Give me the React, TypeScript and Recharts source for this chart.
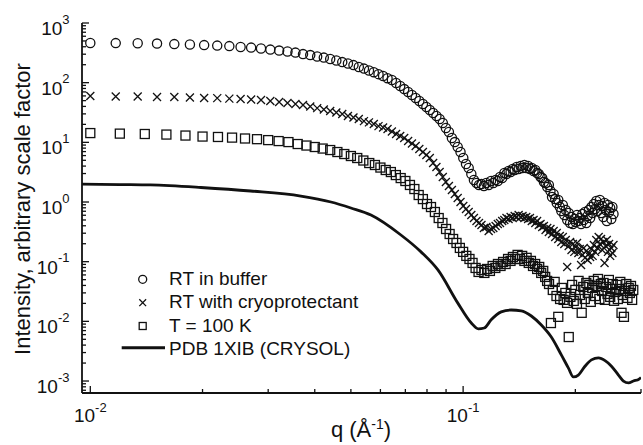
import React from 'react';
import { ScatterChart, Scatter, XAxis, YAxis } from 'recharts';

// q grid of the two room-temperature runs (1/Å)
const qRoom = [
  0.0100, 0.0117, 0.0134, 0.0151, 0.0168, 0.0185, 0.0202, 0.0219, 0.0236, 0.0253,
  0.0270, 0.0287, 0.0304, 0.0321, 0.0338, 0.0355, 0.0372, 0.0389, 0.0406, 0.0423,
  0.0440, 0.0457, 0.0474, 0.0491, 0.0508, 0.0525, 0.0542, 0.0559, 0.0576, 0.0593,
  0.0610, 0.0627, 0.0644, 0.0661, 0.0678, 0.0695, 0.0712, 0.0729, 0.0746, 0.0763,
  0.0780, 0.0797, 0.0814, 0.0831, 0.0848, 0.0865, 0.0882, 0.0899, 0.0916, 0.0933,
  0.0950, 0.0967, 0.0984, 0.1001, 0.1018, 0.1035, 0.1052, 0.1069, 0.1086, 0.1103,
  0.1120, 0.1137, 0.1154, 0.1171, 0.1188, 0.1205, 0.1222, 0.1239, 0.1256, 0.1273,
  0.1290, 0.1307, 0.1324, 0.1341, 0.1358, 0.1375, 0.1392, 0.1409, 0.1426, 0.1443,
  0.1460, 0.1477, 0.1494, 0.1511, 0.1528, 0.1545, 0.1562, 0.1579, 0.1596, 0.1613,
  0.1630, 0.1647, 0.1664, 0.1681, 0.1698, 0.1715, 0.1732, 0.1749, 0.1766, 0.1783,
  0.1800, 0.1817, 0.1834, 0.1851, 0.1868, 0.1885, 0.1902, 0.1919, 0.1936, 0.1953,
  0.1970, 0.1987, 0.2004, 0.2021, 0.2038, 0.2055, 0.2072, 0.2089, 0.2106, 0.2123,
  0.2140, 0.2157, 0.2174, 0.2191, 0.2208, 0.2225, 0.2242, 0.2259, 0.2276, 0.2293,
  0.2310, 0.2327, 0.2344, 0.2361, 0.2378, 0.2395, 0.2412, 0.2429, 0.2446, 0.2463,
  0.2480, 0.2497, 0.2514, 0.2531,
];

// RT in buffer
const buffer = [
  461, 460, 458, 452, 443, 435, 426, 418, 410, 395,
  387, 373, 358, 345, 332, 319, 301, 290, 274, 263,
  249, 235, 221, 209, 197, 183, 172, 160, 150, 139,
  129, 119, 111, 98.5, 87.7, 78.1, 69.6, 62, 55.2, 49.2,
  43.8, 39, 34.8, 31, 27.6, 24.6, 21.1, 17.4, 14.9, 11.8,
  10.1, 8.35, 6.88, 5.46, 4.33, 3.71, 2.94, 2.34, 2.08, 1.93,
  2.0, 1.85, 2.08, 1.93, 2.25, 2.08, 2.34, 2.25, 2.62, 2.52,
  3.06, 2.94, 3.31, 3.18, 3.57, 3.44, 3.86, 3.57, 4.01, 3.71,
  4.17, 3.71, 4.01, 3.57, 3.71, 3.31, 3.44, 3.06, 2.94, 2.62,
  2.52, 2.16, 2.08, 1.78, 1.93, 1.53, 1.21, 1.36, 1.12, 0.962,
  1.08, 0.824, 0.706, 0.891, 0.605, 0.734, 0.499, 0.654, 0.445, 0.561,
  0.428, 0.519, 0.462, 0.605, 0.48, 0.539, 0.428, 0.629, 0.499, 0.68,
  0.445, 0.583, 0.734, 0.539, 0.824, 0.654, 0.926, 0.763, 1.04, 0.706,
  0.891, 1.08, 0.654, 0.857, 0.561, 0.962, 0.734, 0.48, 0.891, 0.68,
  0.793, 0.519, 0.824, 0.629,
];

// RT with cryoprotectant
const cryo = [
  59.6, 58.5, 58.5, 57.4, 57.4, 56.3, 55.2, 55.0, 54.1, 53.1,
  52.1, 51.1, 49.2, 47.3, 45.5, 43.8, 42.2, 39.8, 37.5, 35.4,
  33.5, 31.6, 29.8, 27.6, 26.0, 24.6, 22.7, 21.6, 20.3, 18.7,
  17.7, 16.7, 15.2, 13.8, 12.8, 11.8, 10.5, 9.56, 8.67, 7.73,
  6.88, 6.13, 5.46, 4.5, 3.86, 3.18, 2.62, 2.16, 1.85, 1.59,
  1.36, 1.17, 1.0, 0.857, 0.763, 0.68, 0.605, 0.539, 0.48, 0.445,
  0.412, 0.367, 0.381, 0.327, 0.353, 0.367, 0.396, 0.428, 0.445, 0.48,
  0.499, 0.539, 0.519, 0.561, 0.539, 0.583, 0.561, 0.605, 0.561, 0.583,
  0.539, 0.561, 0.519, 0.539, 0.48, 0.499, 0.445, 0.48, 0.412, 0.428,
  0.381, 0.396, 0.339, 0.367, 0.314, 0.353, 0.291, 0.327, 0.259, 0.302,
  0.24, 0.269, 0.214, 0.259, 0.198, 0.231, 0.0816, 0.183, 0.214, 0.157,
  0.198, 0.146, 0.176, 0.206, 0.14, 0.163, 0.0882, 0.13, 0.17, 0.116,
  0.151, 0.107, 0.135, 0.12, 0.163, 0.125, 0.19, 0.146, 0.231, 0.17,
  0.259, 0.198, 0.24, 0.157, 0.214, 0.0953, 0.183, 0.231, 0.146, 0.198,
  0.125, 0.17, 0.14, 0.19,
];

// T = 100 K has its own q grid
const qFrozen = [
  0.010, 0.012, 0.014, 0.016, 0.018, 0.020, 0.022, 0.024, 0.026, 0.028,
  0.030, 0.032, 0.034, 0.036, 0.038, 0.040, 0.042, 0.044, 0.046, 0.048,
  0.050, 0.052, 0.054, 0.056, 0.058, 0.060, 0.062, 0.064, 0.066, 0.068,
  0.070, 0.072, 0.074, 0.076, 0.078, 0.080, 0.082, 0.084, 0.086, 0.088,
  0.090, 0.092, 0.094, 0.096, 0.098, 0.100, 0.102, 0.104, 0.106, 0.108,
  0.110, 0.112, 0.114, 0.116, 0.118, 0.120, 0.122, 0.124, 0.126, 0.128,
  0.130, 0.132, 0.134, 0.136, 0.138, 0.140, 0.142, 0.144, 0.146, 0.148,
  0.150, 0.152, 0.154, 0.156, 0.158, 0.160, 0.162, 0.164, 0.166, 0.168,
  0.170, 0.172, 0.174, 0.176, 0.178, 0.180, 0.182, 0.184, 0.186, 0.188,
  0.190, 0.192, 0.194, 0.196, 0.198, 0.200, 0.202, 0.204, 0.206, 0.208,
  0.210, 0.212, 0.214, 0.216, 0.218, 0.220, 0.222, 0.224, 0.226, 0.228,
  0.230, 0.232, 0.234, 0.236, 0.238, 0.240, 0.242, 0.244, 0.246, 0.248,
  0.250, 0.252, 0.254, 0.256, 0.258, 0.260, 0.262, 0.264, 0.266, 0.268,
  0.270, 0.272, 0.274, 0.276, 0.278, 0.280, 0.282, 0.284, 0.286,
];

const frozen = [
  14.3, 14.0, 13.8, 13.5, 13.0, 12.5, 12.3, 12.0, 11.6, 11.3,
  10.9, 10.5, 10.1, 9.37, 8.84, 8.35, 7.87, 7.43, 6.88, 6.37,
  5.9, 5.46, 4.96, 4.5, 4.17, 3.78, 3.44, 3.18, 2.83, 2.52,
  2.25, 1.93, 1.65, 1.31, 1.12, 0.926, 0.824, 0.68, 0.539, 0.445,
  0.353, 0.291, 0.24, 0.206, 0.17, 0.146, 0.125, 0.111, 0.0953, 0.0785,
  0.0673, 0.0727, 0.0648, 0.0755, 0.07, 0.0848, 0.0785, 0.0915, 0.0848, 0.099,
  0.0915, 0.111, 0.103, 0.12, 0.111, 0.13, 0.111, 0.125, 0.103, 0.116,
  0.0953, 0.103, 0.0848, 0.0915, 0.0755, 0.0816, 0.0648, 0.07, 0.0555, 0.0476,
  0.0423, 0.00937, 0.0336, 0.0458, 0.0266, 0.0119, 0.0237, 0.0363, 0.0229, 0.0299,
  0.0204, 0.00546, 0.0257, 0.0408, 0.022, 0.0336, 0.0196, 0.0476, 0.0277, 0.0139,
  0.0377, 0.0237, 0.044, 0.0299, 0.0408, 0.0212, 0.0363, 0.0476, 0.0266, 0.0392,
  0.0513, 0.0237, 0.0422, 0.0323, 0.044, 0.0229, 0.0377, 0.0288, 0.0494, 0.0257,
  0.0349, 0.0422, 0.0221, 0.0311, 0.0408, 0.0237, 0.0349, 0.0458, 0.0139, 0.0277,
  0.0119, 0.0323, 0.0422, 0.0247, 0.0363, 0.0299, 0.0392, 0.0229, 0.0336,
];

// PDB 1XIB (CRYSOL) curve
const qCrysol = [
  0.0095, 0.0120, 0.0145, 0.0198, 0.0269, 0.0367, 0.0442, 0.0500, 0.0566, 0.0681,
  0.0771, 0.0856, 0.0967, 0.1052, 0.1098, 0.1139, 0.1189, 0.1265, 0.1346, 0.1432,
  0.1524, 0.1621, 0.1724, 0.1834, 0.1915, 0.1976, 0.2037, 0.2115, 0.2209, 0.2307,
  0.2408, 0.2496, 0.2610, 0.2692, 0.2777, 0.2864, 0.2965, 0.3000,
];
const crysol = [
  2.0, 1.96, 1.93, 1.75, 1.53, 1.26, 1.0, 0.793, 0.605, 0.28,
  0.146, 0.0727, 0.0204, 0.00937, 0.0075, 0.00774, 0.0106, 0.0144, 0.0155, 0.015,
  0.0123, 0.00868, 0.00546, 0.00274, 0.00166, 0.00117, 0.00126, 0.00172, 0.00226, 0.00244,
  0.00217, 0.00179, 0.00126, 0.001, 0.00093, 0.001, 0.00108, 0.00115,
];

const xTicks = [0.01, 0.02, 0.03, 0.04, 0.05, 0.06, 0.07, 0.08, 0.09, 0.1, 0.2, 0.3];
const xMajor = [0.01, 0.1];
const yTicks = [
  0.0007, 0.0008, 0.0009,
  0.001, 0.002, 0.003, 0.004, 0.005, 0.006, 0.007, 0.008, 0.009,
  0.01, 0.02, 0.03, 0.04, 0.05, 0.06, 0.07, 0.08, 0.09,
  0.1, 0.2, 0.3, 0.4, 0.5, 0.6, 0.7, 0.8, 0.9,
  1, 2, 3, 4, 5, 6, 7, 8, 9,
  10, 20, 30, 40, 50, 60, 70, 80, 90,
  100, 200, 300, 400, 500, 600, 700, 800, 900,
  1000,
];
const yMajor = [0.001, 0.01, 0.1, 1, 10, 100, 1000];

const legendLabels = ['RT in buffer', 'RT with cryoprotectant', 'T = 100 K', 'PDB 1XIB (CRYSOL)'];

const INK = '#111';
const FONT = '"Liberation Sans", Arial, sans-serif';

const toPoints = (qs: number[], vals: number[]) => qs.map((q, i) => ({ q, I: vals[i] }));

const Ring = (p: any) => (
  <circle cx={p.cx} cy={p.cy} r={4.6} fill="none" stroke={INK} strokeWidth={1.3} />
);
const Cross = (p: any) => (
  <path
    d={`M${p.cx - 4},${p.cy - 4}L${p.cx + 4},${p.cy + 4}M${p.cx - 4},${p.cy + 4}L${p.cx + 4},${p.cy - 4}`}
    stroke={INK}
    strokeWidth={1.3}
  />
);
const Box = (p: any) => (
  <rect x={p.cx - 4.5} y={p.cy - 4.5} width={9} height={9} fill="none" stroke={INK} strokeWidth={1.3} />
);
const Nothing = () => <g />;

// inward tick marks, labels only on the decades
function makeTick(side: 'bottom' | 'top' | 'left' | 'right') {
  return (props: any) => {
    const x = Number(props.x);
    const y = Number(props.y);
    const v = props.payload.value;
    const horizontal = side === 'bottom' || side === 'top';
    const major = horizontal ? xMajor.includes(v) : yMajor.includes(v);
    const len = major ? 7 : 4;
    const exp = String(Math.round(Math.log10(v)));
    let d = '';
    if (side === 'bottom') d = `M${x} ${y} L${x} ${y - len}`;
    if (side === 'top') d = `M${x} ${y} L${x} ${y + len}`;
    if (side === 'left') d = `M${x} ${y} L${x + len} ${y}`;
    if (side === 'right') d = `M${x} ${y} L${x - len} ${y}`;
    return (
      <g>
        <path d={d} stroke={INK} strokeWidth={1.3} fill="none" />
        {major && side === 'bottom' && (
          <text x={x} y={y + 29} textAnchor="middle" fill={INK} fontFamily={FONT} fontSize={19}>
            10<tspan fontSize={13} dy={-10}>{exp}</tspan>
          </text>
        )}
        {major && side === 'left' && (
          <text x={x - 12.5} y={y + 12} textAnchor="end" fill={INK} fontFamily={FONT} fontSize={19}>
            10<tspan fontSize={13} dy={-11.5}>{exp}</tspan>
          </text>
        )}
      </g>
    );
  };
}

const xDomain: [number, number] = [0.0095, 0.3];
const yDomain: [number, number] = [0.00063, 1000];
const frameLine = { stroke: INK, strokeWidth: 1.8 };

export default function App() {
  const roomBuffer = toPoints(qRoom, buffer);
  const roomCryo = toPoints(qRoom, cryo);
  const cold = toPoints(qFrozen, frozen);
  const model = toPoints(qCrysol, crysol);
  const legendY = [279.3, 302.7, 326, 347.7];

  return (
    <div style={{ position: 'absolute', left: 0, top: 0, width: 643, height: 445, background: '#fff' }}>
      <ScatterChart width={643} height={445} margin={{ top: 23, right: 2, bottom: 0, left: 0 }}>
        <XAxis
          xAxisId="b"
          dataKey="q"
          type="number"
          scale="log"
          domain={xDomain}
          allowDataOverflow
          ticks={xTicks}
          interval={0}
          height={52}
          tickSize={0}
          tickMargin={0}
          tickLine={false}
          axisLine={frameLine}
          tick={makeTick('bottom')}
        />
        <XAxis
          xAxisId="t"
          orientation="top"
          dataKey="q"
          type="number"
          scale="log"
          domain={xDomain}
          allowDataOverflow
          ticks={xTicks}
          interval={0}
          height={0}
          tickSize={0}
          tickMargin={0}
          tickLine={false}
          axisLine={frameLine}
          tick={makeTick('top')}
        />
        <YAxis
          yAxisId="l"
          dataKey="I"
          type="number"
          scale="log"
          domain={yDomain}
          allowDataOverflow
          ticks={yTicks}
          interval={0}
          width={82}
          tickSize={0}
          tickMargin={0}
          tickLine={false}
          axisLine={frameLine}
          tick={makeTick('left')}
        />
        <YAxis
          yAxisId="r"
          orientation="right"
          dataKey="I"
          type="number"
          scale="log"
          domain={yDomain}
          allowDataOverflow
          ticks={yTicks}
          interval={0}
          width={0}
          tickSize={0}
          tickMargin={0}
          tickLine={false}
          axisLine={frameLine}
          tick={makeTick('right')}
        />
        <Scatter
          xAxisId="b"
          yAxisId="l"
          data={model}
          shape={Nothing}
          line={{ stroke: INK, strokeWidth: 2.8 }}
          lineJointType="monotoneX"
          isAnimationActive={false}
        />
        <Scatter xAxisId="b" yAxisId="l" data={cold} shape={Box} isAnimationActive={false} />
        <Scatter xAxisId="b" yAxisId="l" data={roomCryo} shape={Cross} isAnimationActive={false} />
        <Scatter xAxisId="b" yAxisId="l" data={roomBuffer} shape={Ring} isAnimationActive={false} />
        <Scatter xAxisId="t" yAxisId="r" data={model} shape={Nothing} isAnimationActive={false} />
      </ScatterChart>

      <svg
        width={643}
        height={445}
        style={{ position: 'absolute', left: 0, top: 0, pointerEvents: 'none' }}
        fontFamily={FONT}
      >
        <text transform="translate(29.5,209) rotate(-90)" textAnchor="middle" fontSize={22} fill={INK}>
          Intensity, arbitrary scale factor
        </text>
        <text x={361} y={437} textAnchor="middle" fontSize={22} fill={INK}>
          q (Å<tspan fontSize={14} dy={-8}>-1</tspan>
          <tspan dy={8}>)</tspan>
        </text>

        <circle cx={142.7} cy={legendY[0]} r={4} fill="none" stroke={INK} strokeWidth={1.3} />
        <path
          d={`M139.3,${legendY[1] - 3.4}L146.1,${legendY[1] + 3.4}M139.3,${legendY[1] + 3.4}L146.1,${legendY[1] - 3.4}`}
          stroke={INK}
          strokeWidth={1.3}
        />
        <rect x={139.2} y={legendY[2] - 3.5} width={7} height={7} fill="none" stroke={INK} strokeWidth={1.3} />
        <line x1={121.7} y1={legendY[3]} x2={165} y2={legendY[3]} stroke={INK} strokeWidth={3} />
        {legendLabels.map((label, i) => (
          <text key={label} x={169} y={[285, 308.3, 331.7, 355][i]} fontSize={19} fill={INK}>
            {label}
          </text>
        ))}
      </svg>
    </div>
  );
}
